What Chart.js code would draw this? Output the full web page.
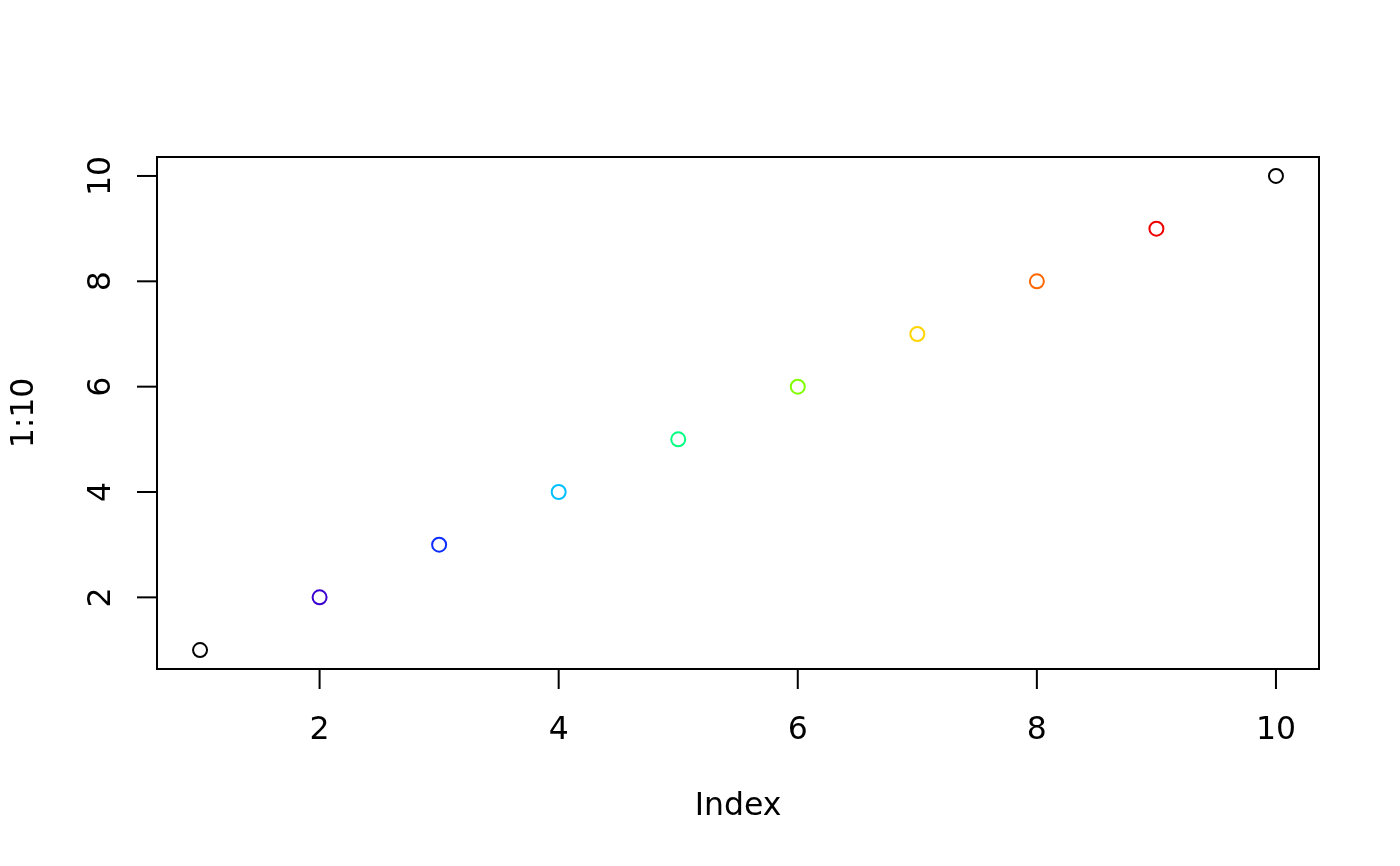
<!DOCTYPE html>
<html>
<head>
<meta charset="utf-8">
<script src="https://cdn.jsdelivr.net/npm/chart.js@4"></script>
<style>
  html, body { margin: 0; padding: 0; background: #ffffff; }
  canvas { display: block; }
</style>
</head>
<body>
<canvas id="chart" width="1400" height="866"></canvas>
<script>
// data
const xValues = [1, 2, 3, 4, 5, 6, 7, 8, 9, 10];
const yValues = [1, 2, 3, 4, 5, 6, 7, 8, 9, 10];
const pointColors = ["#000000", "#3c00d0", "#0d2eff", "#00bfff", "#00ff80",
                     "#80ff00", "#ffd400", "#ff6600", "#ee0000", "#000000"];
const xTicks = [2, 4, 6, 8, 10];
const yTicks = [2, 4, 6, 8, 10];
const xTitle = "Index";
const yTitle = "1:10";

// R style: axes go 4% past the data range
const pad = (arr) => (Math.max(...arr) - Math.min(...arr)) * 0.04;
const xMin = Math.min(...xValues) - pad(xValues);
const xMax = Math.max(...xValues) + pad(xValues);
const yMin = Math.min(...yValues) - pad(yValues);
const yMax = Math.max(...yValues) + pad(yValues);

const FONT = "31.5px 'DejaVu Sans'";

// plugin pour dessiner le cadre, les graduations et les titres comme dans R
const baseAxes = {
    id: "baseAxes",
    afterDraw(chart) {
        const ctx = chart.ctx;
        const area = chart.chartArea;
        const xs = chart.scales.x;
        const ys = chart.scales.y;
        ctx.save();
        ctx.strokeStyle = "#000000";
        ctx.fillStyle = "#000000";
        ctx.lineWidth = 2;
        ctx.strokeRect(area.left, area.top, area.right - area.left, area.bottom - area.top);

        ctx.font = FONT;
        // axe x
        ctx.textAlign = "center";
        ctx.textBaseline = "alphabetic";
        xTicks.forEach((v) => {
            const px = xs.getPixelForValue(v);
            ctx.beginPath();
            ctx.moveTo(px, area.bottom);
            ctx.lineTo(px, area.bottom + 20);
            ctx.stroke();
            ctx.fillText(String(v), px, area.bottom + 70);
        });
        ctx.fillText(xTitle, (area.left + area.right) / 2, area.bottom + 146);

        // axe y
        yTicks.forEach((v) => {
            const py = ys.getPixelForValue(v);
            ctx.beginPath();
            ctx.moveTo(area.left, py);
            ctx.lineTo(area.left - 20, py);
            ctx.stroke();
            ctx.save();
            ctx.translate(area.left - 47, py);
            ctx.rotate(-Math.PI / 2);
            ctx.fillText(String(v), 0, 0);
            ctx.restore();
        });
        ctx.save();
        ctx.translate(area.left - 124, (area.top + area.bottom) / 2);
        ctx.rotate(-Math.PI / 2);
        ctx.fillText(yTitle, 0, 0);
        ctx.restore();
        ctx.restore();
    }
};

const ctx = document.getElementById("chart").getContext("2d");
const chart = new Chart(ctx, {
    type: "scatter",
    data: {
        datasets: [{
            data: xValues.map((x, i) => ({ x: x, y: yValues[i] })),
            borderColor: pointColors,
            backgroundColor: "rgba(0,0,0,0)",
            pointRadius: 7,
            pointHoverRadius: 7,
            borderWidth: 2,
            pointStyle: "circle"
        }]
    },
    options: {
        responsive: false,
        animation: false,
        devicePixelRatio: 1,
        layout: { padding: { left: 157, top: 157, right: 81, bottom: 197 } },
        plugins: { legend: { display: false }, tooltip: { enabled: false } },
        scales: {
            x: { type: "linear", min: xMin, max: xMax, display: false },
            y: { type: "linear", min: yMin, max: yMax, display: false }
        }
    },
    plugins: [baseAxes]
});
</script>
</body>
</html>
